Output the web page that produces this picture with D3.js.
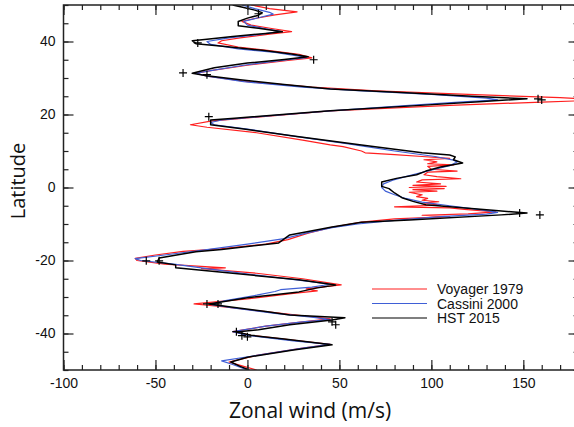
<!DOCTYPE html>
<html>
<head>
<meta charset="utf-8">
<script src="https://cdn.jsdelivr.net/npm/d3@7"></script>
<style>
  html, body { margin: 0; padding: 0; background: #fff; }
  svg { display: block; }
</style>
</head>
<body>
<svg id="chart" width="574" height="427"></svg>
<script>
// Jupiter zonal wind profiles: [latitude (deg), zonal wind (m/s)]
const voyager1979 = [
  [50,2],[49,12],[48.1,27],[47.3,15],[46.3,4],[45.5,-3],[44.5,2],[43.5,14],[42.7,24],[42,12],
  [41,-4],[40.2,-14],[39.6,-16],[38.5,-5],[37.5,12],[36.5,28],[35.5,35],[34.8,22],[33.5,0],[32,-20],
  [31.3,-28],[30.5,-22],[29,0],[27.5,35],[26.5,70],[25.5,120],[24.6,170],[24,195],[23.4,160],[22.5,110],
  [21,45],[19.5,10],[18.2,-20],[17.2,-31],[16.5,-22],[15,5],[13,30],[11.7,45],[11.2,52],[10,62],
  [9.5,64],[9,80],[8.5,95],[8,110],[7.6,96],[7,103],[6.5,98],[6.2,112],[5.8,98],[5,100],
  [4.5,114],[4.2,98],[3.5,96],[3,103],[2.4,116],[2.1,95],[1.5,92],[1,105],[0.6,90],[0.3,108],
  [0,88],[-0.3,107],[-0.6,90],[-1,103],[-1.3,88],[-2,95],[-2.5,92],[-3,98],[-3.5,95],[-3.9,104],
  [-4.2,96],[-4.8,105],[-5.3,80],[-5.6,110],[-6,118],[-6.7,135],[-7.2,120],[-7.6,95],[-8,110],[-8.6,80],
  [-9.5,62],[-11,45],[-12.5,33],[-14.3,22],[-15.5,10],[-16.8,-15],[-17.5,-35],[-18.5,-50],[-19.4,-61],[-20,-60],
  [-21,-45],[-22,-12],[-22.2,-25],[-23.5,5],[-25,30],[-26.7,51],[-27.3,40],[-27.8,32],[-28.3,38],[-29,25],
  [-30.5,0],[-31.9,-29],[-32.6,-15],[-34,10],[-35,28],[-36,45],[-36.8,30],[-38,10],[-39.5,-8],[-40.5,2],
  [-42,28],[-43,45],[-44,30],[-46,5],[-47.8,-10],[-49,-2],[-50,5]
];

const cassini2000 = [
  [50,-3],[49,4],[48,12],[47.5,14],[46.5,6],[45.5,-2],[44.5,0],[43.5,10],[42.8,18],[42,8],
  [41,-10],[40,-22],[39.2,-20],[38,-5],[37,15],[36,28],[35.6,32],[35,22],[33.5,-2],[32,-20],
  [31.3,-28],[30.5,-22],[29,-2],[27.5,30],[26.5,60],[25.5,100],[24.5,130],[24,136],[23.4,115],[22.5,88],
  [21,45],[19.5,8],[18.5,-14],[17.8,-20],[17.2,-18],[16,0],[14,26],[12,54],[10,80],[8.5,102],
  [7.5,112],[7,114],[6,110],[5,102],[4,94],[3,86],[2,79],[1,74],[0,73],[-1,75],
  [-2,80],[-3,86],[-4,95],[-5,110],[-6,125],[-6.8,136],[-7.3,130],[-8,105],[-9,80],[-10,60],
  [-11,46],[-12.5,32],[-14,20],[-15.5,0],[-17,-22],[-18.5,-45],[-19.5,-61],[-20,-58],[-21,-40],[-22.5,-18],
  [-24,5],[-25.5,30],[-26.5,45],[-27.3,35],[-28,18],[-28.5,15],[-29.5,5],[-31,-12],[-32,-20],[-33,-8],
  [-34.5,15],[-35.5,35],[-36.2,45],[-36.8,30],[-38,10],[-39.5,-8],[-40.5,0],[-42,25],[-43,45],[-44,30],
  [-46,5],[-47.5,-14],[-48.5,-8],[-50,0]
];

const hst2015 = [
  [50,-8],[49.3,-2],[48.6,4],[47.9,8],[47.2,6],[46.4,0],[45.5,-5],[44.3,-5],[43.6,6],[42.7,19],
  [42.2,10],[41.4,-8],[40.6,-22],[40.2,-30],[39.4,-28],[38.6,-12],[37.6,8],[36.6,24],[35.8,33],[35.1,20],
  [34.1,0],[32.8,-18],[31.3,-30],[30.6,-22],[29.5,-4],[28.2,20],[27,45],[26,84],[25,122],[24.3,152],
  [23.5,126],[22.5,94],[21,45],[20,19],[19,-7],[18.5,-20],[17.2,-20],[16,-2],[14,27],[11.7,61],
  [10.5,80],[9.5,95],[8.9,110],[8.4,113],[7.6,112],[6.7,117],[5.6,105],[4.5,97],[3.5,92],[2.5,81],
  [1.5,73],[0.3,73],[-0.3,77],[-1.5,80],[-2.8,84],[-3.8,90],[-4.7,97],[-5.5,115],[-6.3,135],[-7,152],
  [-7.5,138],[-8.9,88],[-9.5,62],[-10.8,46],[-13,23],[-15.2,17],[-17,-14],[-17.6,-28],[-19.3,-48],[-20.4,-49],
  [-21.2,-39],[-22,-39],[-23.5,-8],[-25.3,28],[-26.7,48],[-27.5,38],[-28.6,28],[-30.2,0],[-31.9,-21],[-32.7,-10],
  [-34,10],[-34.9,23],[-35.7,53],[-36.3,46],[-37.6,23],[-39,6],[-39.6,-6],[-40.5,2],[-41.5,20],[-43.1,46],
  [-44.5,25],[-46.5,0],[-47.8,-9],[-49,-4],[-50,1]
];

// Individual HST tracked features marked with crosses
const hstMarkers = [
  [47.6,6],[39.6,-27],[35,36],[31.4,-35],[30.9,-22],[24.3,158],[24,160],[19.4,-21],
  [-7,148],[-7.5,159],[-20.1,-55],[-20.1,-48],[-31.9,-22],[-31.9,-16],[-36.8,46],[-37.6,48],
  [-39.5,-6],[-40.6,-3],[-40.9,0]
];

const xMajorTicks = [-100, -50, 0, 50, 100, 150];
const yMajorTicks = [-40, -20, 0, 20, 40];

const legendLabels = ["Voyager 1979", "Cassini 2000", "HST 2015"];

const seriesList = [
  { data: voyager1979, color: "#ff1f1f", width: 1.2 },
  { data: cassini2000, color: "#3f5fd6", width: 1.2 },
  { data: hst2015, color: "#000000", width: 1.5 }
];

const svg = d3.select("#chart");
const plot = { left: 63.5, right: 578.5, top: 5, bottom: 370 };

const x = d3.scaleLinear().domain([-100, 180]).range([plot.left, plot.right]);
const y = d3.scaleLinear().domain([-50, 50]).range([plot.bottom, plot.top]);

svg.append("defs").append("clipPath").attr("id", "plot-clip")
  .append("rect")
  .attr("x", plot.left).attr("y", plot.top)
  .attr("width", plot.right - plot.left).attr("height", plot.bottom - plot.top);

const line = d3.line().x(d => x(d[1])).y(d => y(d[0]));

const lines = svg.append("g").attr("clip-path", "url(#plot-clip)");
seriesList.forEach(s => {
  lines.append("path")
    .datum(s.data)
    .attr("d", line)
    .attr("fill", "none")
    .attr("stroke", s.color)
    .attr("stroke-width", s.width)
    .attr("stroke-linejoin", "round");
});

// Cross markers
const cross = 4;
lines.append("g").selectAll("path")
  .data(hstMarkers)
  .join("path")
  .attr("d", d => {
    const cx = x(d[1]), cy = y(d[0]);
    return `M${cx - cross},${cy}H${cx + cross}M${cx},${cy - cross}V${cy + cross}`;
  })
  .attr("stroke", "#000")
  .attr("stroke-width", 1.2);

// Axes with inward ticks on all four sides
const tickFont = "'Liberation Sans', Arial, sans-serif";
const fmt = d => String(d);
const xMinor = d3.range(-100, 181, 10);
const yMinor = d3.range(-50, 51, 5);

function styleAxis(g) {
  g.selectAll(".domain").remove();
  g.selectAll(".tick line").attr("stroke", "#222").attr("stroke-width", 1.2);
  g.selectAll("text").attr("font-family", tickFont).attr("font-size", 14).attr("fill", "#111");
}

svg.append("g").attr("transform", `translate(0,${plot.bottom})`)
  .call(d3.axisBottom(x).tickValues(xMinor).tickSize(-5).tickFormat(""))
  .call(styleAxis);
svg.append("g").attr("transform", `translate(0,${plot.bottom})`)
  .call(d3.axisBottom(x).tickValues(xMajorTicks).tickSize(-10).tickPadding(8).tickFormat(fmt))
  .call(styleAxis);
svg.append("g").attr("transform", `translate(0,${plot.top})`)
  .call(d3.axisTop(x).tickValues(xMinor).tickSize(-5).tickFormat(""))
  .call(styleAxis);
svg.append("g").attr("transform", `translate(0,${plot.top})`)
  .call(d3.axisTop(x).tickValues(xMajorTicks).tickSize(-10).tickFormat(""))
  .call(styleAxis);

svg.append("g").attr("transform", `translate(${plot.left},0)`)
  .call(d3.axisLeft(y).tickValues(yMinor).tickSize(-5).tickFormat(""))
  .call(styleAxis);
svg.append("g").attr("transform", `translate(${plot.left},0)`)
  .call(d3.axisLeft(y).tickValues(yMajorTicks).tickSize(-10).tickPadding(8).tickFormat(fmt))
  .call(styleAxis);
svg.append("g").attr("transform", `translate(${plot.right},0)`)
  .call(d3.axisRight(y).tickValues(yMinor).tickSize(-5).tickFormat(""))
  .call(styleAxis);
svg.append("g").attr("transform", `translate(${plot.right},0)`)
  .call(d3.axisRight(y).tickValues(yMajorTicks).tickSize(-10).tickFormat(""))
  .call(styleAxis);

// Frame
svg.append("rect")
  .attr("x", plot.left).attr("y", plot.top)
  .attr("width", plot.right - plot.left).attr("height", plot.bottom - plot.top)
  .attr("fill", "none").attr("stroke", "#222").attr("stroke-width", 1.5);

// Axis titles
const titleFont = "'Open Sans', 'Noto Sans', sans-serif";
svg.append("text")
  .attr("x", 310).attr("y", 418)
  .attr("text-anchor", "middle")
  .attr("font-family", titleFont).attr("font-size", 21).attr("fill", "#111")
  .text("Zonal wind (m/s)");
svg.append("text")
  .attr("transform", `translate(25,181) rotate(-90)`)
  .attr("text-anchor", "middle")
  .attr("font-family", titleFont).attr("font-size", 20).attr("fill", "#111")
  .text("Latitude");

// Legend
const legend = svg.append("g");
legendLabels.forEach((label, i) => {
  const ly = 289 + i * 14.5;
  legend.append("line")
    .attr("x1", 372).attr("x2", 427).attr("y1", ly).attr("y2", ly)
    .attr("stroke", seriesList[i].color).attr("stroke-width", 1.2);
  legend.append("text")
    .attr("x", 437).attr("y", ly + 5)
    .attr("font-family", tickFont).attr("font-size", 14).attr("fill", "#111")
    .text(label);
});
</script>
</body>
</html>
